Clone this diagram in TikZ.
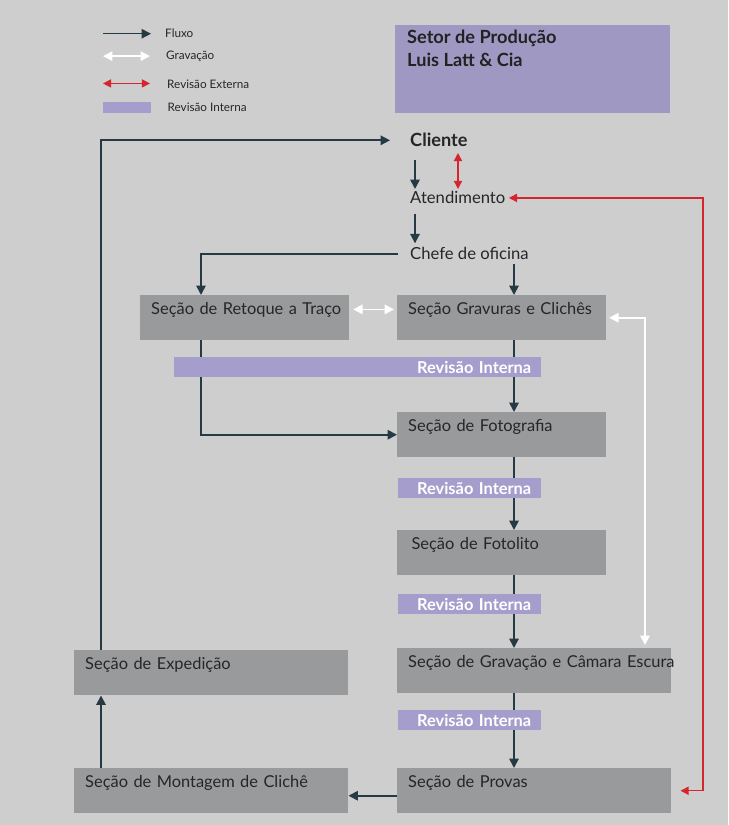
\documentclass[tikz,border=0pt]{standalone}
\usepackage{fontspec}
\setmainfont{Lato}
\usetikzlibrary{positioning,arrows.meta}

\definecolor{fundo}{HTML}{CECECE}
\definecolor{caixa}{HTML}{999A9B}
\definecolor{fluxocor}{HTML}{263A44}
\definecolor{revint}{HTML}{A59ECC}
\definecolor{titulocor}{HTML}{9F98C2}
\definecolor{revext}{HTML}{D6262D}
\definecolor{texto}{HTML}{262626}

\begin{document}
\begin{tikzpicture}[x=0.03cm, y=-0.03cm,
	secao/.style={fill=caixa, anchor=north west, inner xsep=0.33cm, inner ysep=0pt, text height=0.57cm, text depth=0.78cm, text width=#1, align=left, text=texto, font=\fontsize{14}{16}\selectfont, execute at begin node=\hbox\bgroup, execute at end node=\egroup},
	revisao/.style={fill=revint, anchor=north west, inner xsep=0.3cm, inner ysep=0pt, minimum height=0.6cm, text width=#1, align=right, text=white, font=\bfseries\fontsize{14}{15}\selectfont},
	passo/.style={anchor=base west, inner sep=0pt, text=texto, font=\fontsize{14.2}{16}\selectfont},
	legenda/.style={anchor=base west, inner sep=0pt, text=texto, font=\fontsize{10}{12}\selectfont},
	fluxo/.style={draw=fluxocor, line width=1.5pt, -{Triangle[length=8pt,width=8pt]}},
	gravacao/.style={draw=white, line width=1.5pt, {Triangle[length=8pt,width=8pt]}-{Triangle[length=8pt,width=8pt]}},
	externa/.style={draw=revext, line width=1.2pt, {Triangle[length=7pt,width=7pt]}-{Triangle[length=7pt,width=7pt]}}]

	\useasboundingbox (0,0) rectangle (728,825);
	\fill[fundo] (0,0) rectangle (728,825);

	% legenda
	\node[legenda] (lfluxo) at (165,38) {Fluxo};
	\node[legenda] (lgrav) at (166,60) {Gravação};
	\node[legenda] (lext) at (167,89) {Revisão Externa};
	\node[fill=revint, anchor=north west, minimum width=1.44cm, minimum height=0.33cm, inner sep=0pt] (lrevint) at (103,102) {};
	\node[legenda, anchor=west, right=0.48cm of lrevint] (lint) {Revisão Interna};
	\draw[fluxo, line width=1.2pt] ([xshift=-1.86cm]lfluxo.west) -- ([xshift=-0.42cm]lfluxo.west);
	\draw[gravacao, line width=1.2pt] ([xshift=-1.89cm,yshift=0.02cm]lgrav.west) -- ([xshift=-0.48cm,yshift=0.02cm]lgrav.west);
	\draw[externa] ([xshift=-1.92cm,yshift=0.04cm]lext.west) -- ([xshift=-0.51cm,yshift=0.04cm]lext.west);

	% titulo
	\node[fill=titulocor, anchor=north west, minimum width=8.25cm, minimum height=2.64cm, inner sep=0pt] (titulo) at (395,25) {};
	\node[anchor=north west, inner sep=0pt, align=left, text=texto!90!black, font=\bfseries\fontsize{15.5}{19.6}\selectfont] (titulotexto) at (407,30) {Setor de Produção\\Luis Latt \& Cia};

	% etapas
	\node[passo, font=\bfseries\fontsize{15.5}{17}\selectfont] (cliente) at (410,147) {Cliente};
	\node[passo] (atendimento) at (410,204) {Atendimento};
	\node[passo] (chefe) at (410,260) {Chefe de oficina};

	\node[secao=5.6cm] (retoque) at (140,295) {Seção de Retoque a Traço};
	\node[secao=5.6cm] (gravuras) at (397,295) {Seção Gravuras e Clichês};
	\node[secao=5.6cm] (fotografia) at (397,412) {Seção de Fotografia};
	\node[secao=5.6cm] (fotolito) at (397,530) {\hspace{0.1cm}Seção de Fotolito};
	\node[secao=7.56cm] (gravacao) at (397,648) {Seção de Gravação e Câmara Escura};
	\node[secao=7.56cm] (expedicao) at (74,650) {Seção de Expedição};
	\node[secao=7.56cm] (provas) at (397,768) {Seção de Provas};
	\node[secao=7.56cm] (montagem) at (74,768) {Seção de Montagem de Clichê};

	\coordinate (eixo) at (514,0);
	\coordinate (esq) at (101,0);
	\coordinate (ret) at (201,0);
	\coordinate (dir) at (645,0);
	\coordinate (ext) at (703,0);

	% fluxo
	\draw[fluxo] ([xshift=0.15cm,yshift=-0.39cm]cliente.base west) -- ([xshift=0.15cm,yshift=0.45cm]atendimento.base west);
	\draw[externa] ([xshift=1.44cm,yshift=-0.18cm]cliente.base west) -- ([xshift=1.44cm,yshift=0.45cm]atendimento.base west);
	\draw[fluxo] ([xshift=0.15cm,yshift=-0.3cm]atendimento.base west) -- ([xshift=0.15cm,yshift=0.5cm]chefe.base west);
	\draw[fluxo] ([xshift=-0.36cm]chefe.west) -| (retoque.north -| ret);
	\draw[fluxo, shorten <=0.12cm] (chefe.south -| eixo) -- (gravuras.north -| eixo);
	\draw[fluxo] (retoque.south -| ret) |- (fotografia.west);
	\draw[fluxo] (gravuras.south -| eixo) -- (fotografia.north -| eixo);
	\draw[fluxo] (fotografia.south -| eixo) -- (fotolito.north -| eixo);
	\draw[fluxo] (fotolito.south -| eixo) -- (gravacao.north -| eixo);
	\draw[fluxo] (gravacao.south -| eixo) -- (provas.north -| eixo);
	\draw[fluxo] ([yshift=-0.15cm]provas.west) -- ([yshift=-0.15cm]montagem.east);
	\draw[fluxo] (montagem.north -| esq) -- (expedicao.south -| esq);
	\draw[fluxo] (expedicao.north -| esq) |- ([xshift=-0.6cm]cliente.west);

	% gravacao
	\draw[gravacao, shorten <=0.12cm, shorten >=0.09cm] ([yshift=0.25cm]retoque.east) -- ([yshift=0.25cm]gravuras.west);
	\draw[gravacao, shorten <=0.09cm, shorten >=0.09cm] (gravuras.east) -| (gravacao.north -| dir);

	% revisao externa
	\draw[externa] ([xshift=0.1cm]atendimento.east) -| (ext |- provas.east) -- ([xshift=0.27cm]provas.east);

	% revisao interna
	\node[revisao=10.41cm] (rev1) at (174,357) {Revisão Interna};
	\node[revisao=3.69cm] (rev2) at (398,478) {Revisão Interna};
	\node[revisao=3.69cm] (rev3) at (398,594) {Revisão Interna};
	\node[revisao=3.69cm] (rev4) at (398,710) {Revisão Interna};
\end{tikzpicture}
\end{document}
